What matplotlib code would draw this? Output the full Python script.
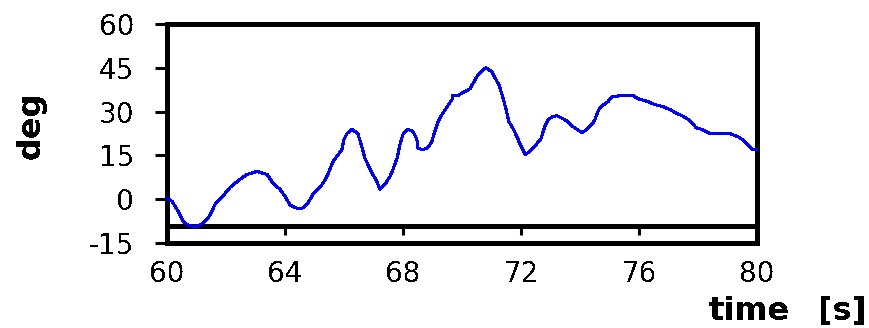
import matplotlib
matplotlib.use("Agg")
import matplotlib.pyplot as plt

# joint angle trace, 60-80 s
TIME_S = [
    60.00, 60.17, 60.37, 60.54, 60.71, 60.98, 61.22, 61.46, 61.63, 61.86,
    62.14, 62.47, 62.71, 63.05, 63.39, 63.59, 63.83, 64.00, 64.17, 64.41,
    64.58, 64.75, 64.95, 65.12, 65.29, 65.42, 65.63, 65.76, 65.93, 66.00,
    66.10, 66.27, 66.47, 66.58, 66.71, 66.81, 66.95, 67.08, 67.22, 67.39,
    67.56, 67.66, 67.80, 67.90, 68.00, 68.17, 68.34, 68.47, 68.51, 68.68,
    68.85, 68.98, 69.08, 69.19, 69.32, 69.66, 69.69, 69.86, 70.03, 70.27,
    70.41, 70.54, 70.68, 70.81, 71.02, 71.12, 71.25, 71.36, 71.49, 71.59,
    71.73, 71.86, 71.97, 72.14, 72.31, 72.47, 72.68, 72.81, 72.92, 73.08,
    73.22, 73.42, 73.59, 73.76, 73.90, 74.07, 74.24, 74.41, 74.51, 74.58,
    74.68, 74.81, 74.95, 75.08, 75.46, 75.80, 75.97, 76.31, 76.54, 76.81,
    77.05, 77.29, 77.46, 77.63, 77.83, 77.93, 78.14, 78.41, 79.08, 79.25,
    79.42, 79.63, 79.73, 79.86, 80.00,
]
ANGLE_DEG = [
    0.3, -0.7, -4.1, -7.5, -8.9, -9.5, -8.2, -5.5, -1.7, 0.7,
    4.1, 6.8, 8.5, 9.5, 8.5, 5.5, 3.4, 1.0, -2.0, -3.1,
    -3.1, -1.7, 1.7, 3.4, 5.5, 7.8, 12.9, 14.7, 17.0, 20.5,
    22.5, 23.9, 22.5, 18.8, 14.0, 11.9, 8.9, 6.8, 3.4, 5.1,
    7.8, 10.2, 14.0, 18.8, 22.2, 23.9, 23.2, 20.5, 17.4, 17.0,
    17.7, 19.8, 23.2, 26.6, 29.0, 34.1, 35.5, 35.5, 36.5, 37.8,
    40.2, 42.6, 44.0, 45.0, 43.6, 41.6, 39.2, 35.8, 31.0, 26.6,
    24.2, 21.5, 18.8, 15.3, 16.4, 18.1, 20.8, 24.9, 27.3, 28.3,
    28.6, 27.6, 26.6, 24.9, 23.9, 22.8, 23.9, 25.6, 27.3, 29.3,
    31.4, 32.4, 33.4, 35.1, 35.5, 35.5, 34.4, 33.4, 32.4, 31.7,
    30.7, 29.3, 28.6, 27.6, 25.9, 24.5, 23.9, 22.5, 22.5, 21.8,
    21.1, 19.4, 18.1, 17.0, 17.0,
]
X_TICKS = [60, 64, 68, 72, 76, 80]
Y_TICKS = [-15, 0, 15, 30, 45, 60]
TIME_AXIS_LEVEL = -9

plt.rcParams.update({
    "font.family": "DejaVu Sans",
    "text.antialiased": False,
    "axes.unicode_minus": False,
    "xtick.direction": "out",
    "xtick.major.size": 6.5,
    "xtick.major.width": 2.2,
    "xtick.major.pad": 18,
    "xtick.labelsize": 20,
    "ytick.direction": "out",
    "ytick.major.size": 8.6,
    "ytick.major.width": 2.2,
    "ytick.major.pad": 15,
    "ytick.labelsize": 20,
})

fig = plt.figure(figsize=(8.7, 3.28), dpi=100)
ax = fig.add_axes([0.192, 0.259, 0.678, 0.668])

ax.plot(TIME_S, ANGLE_DEG, color="#0000ff", lw=1.5, antialiased=False,
        zorder=3, clip_on=False)

ax.set_xlim(60, 80)
ax.set_ylim(-15, 60)
ax.set_xticks(X_TICKS)
ax.set_yticks(Y_TICKS)

for side in ("left", "right", "top", "bottom"):
    ax.spines[side].set_linewidth(2.2)
    ax.spines[side].set_antialiased(False)

# time axis sits inside the box, the frame still closes at -15
ax.spines["bottom"].set_position(("data", TIME_AXIS_LEVEL))
ax.axhline(-15, color="black", lw=2.2, clip_on=False, antialiased=False)

fig.text(31 / 870, 1 - 125 / 328, "deg", rotation=90, fontsize=23,
         fontweight="bold", ha="center", va="center")
fig.text(749 / 870, 1 - 320 / 328, "time", fontsize=23,
         fontweight="bold", ha="center", va="baseline")
fig.text(842 / 870, 1 - 320 / 328, "[s]", fontsize=23,
         fontweight="bold", ha="center", va="baseline")

fig.savefig("out.png", dpi=100)
plt.close(fig)
